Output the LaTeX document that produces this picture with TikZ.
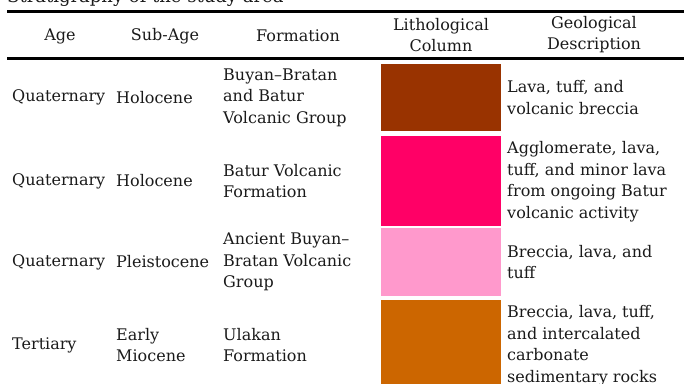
\documentclass[tikz,border=0pt]{standalone}
\usepackage{fontspec}
\setmainfont{DejaVu Serif}
\definecolor{txt}{HTML}{1A1A1A}
\definecolor{brownc}{HTML}{993300}
\definecolor{magc}{HTML}{FF0066}
\definecolor{pinkc}{HTML}{FF99CC}
\definecolor{orangec}{HTML}{CC6600}
\tikzset{
  cell/.style={inner sep=0pt, anchor=west, align=left, text=txt,
    font=\fontsize{16}{21.5}\selectfont},
  head/.style={inner sep=0pt, align=center, text=txt,
    font=\fontsize{16}{21}\selectfont},
  rulel/.style={line width=2.2pt, black},
  litho/.style={draw=none, inner sep=0pt, minimum width=120pt, anchor=north west}
}
\begin{document}
\begin{tikzpicture}[x=1pt,y=-1pt]
\clip (0,0) rectangle (692,383);
% partially visible caption
\node[inner sep=0pt, anchor=base west, text=txt, font=\fontsize{18}{20}\selectfont] (cap) at (7,2.5) {Stratigraphy of the study area};
% rules
\coordinate (r1a) at (7,11.5);
\coordinate (r1b) at (684,11.5);
\coordinate (r2a) at (7,58.5);
\coordinate (r2b) at (684,58.5);
\draw[rulel] (r1a) -- (r1b);
\draw[rulel] (r2a) -- (r2b);
% header
\node[head] (hage) at (60,36) {Age};
\node[head] (hsub) at (165,36) {Sub-Age};
\node[head] (hform) at (298,36) {Formation};
\node[head] (hlith) at (441,35) {Lithological\\Column};
\node[head] (hgeo) at (594,35) {Geological\\Description};
% row 1
\node[cell] (a1) at (12,97.5) {Quaternary};
\node[cell] (s1) at (116,97.5) {Holocene};
\node[cell] (f1) at (223,97.5) {Buyan–Bratan\\and Batur\\Volcanic Group};
\node[litho, fill=brownc, minimum height=67pt] (l1) at (381,64) {};
\node[cell] (d1) at (507,97.5) {Lava, tuff, and\\volcanic breccia};
% row 2
\node[cell] (a2) at (12,181) {Quaternary};
\node[cell] (s2) at (116,181) {Holocene};
\node[cell] (f2) at (223,181) {Batur Volcanic\\Formation};
\node[litho, fill=magc, minimum height=89.5pt] (l2) at (381,136) {};
\node[cell] (d2) at (507,181.5) {Agglomerate, lava,\\tuff, and minor lava\\from ongoing Batur\\volcanic activity};
% row 3
\node[cell] (a3) at (12,262) {Quaternary};
\node[cell] (s3) at (116,262) {Pleistocene};
\node[cell] (f3) at (223,262) {Ancient Buyan–\\Bratan Volcanic\\Group};
\node[litho, fill=pinkc, minimum height=68pt] (l3) at (381,228) {};
\node[cell] (d3) at (507,262) {Breccia, lava, and\\tuff};
% row 4
\node[cell] (a4) at (12,345) {Tertiary};
\node[cell] (s4) at (116,345) {Early\\Miocene};
\node[cell] (f4) at (223,345) {Ulakan\\Formation};
\node[litho, fill=orangec, minimum height=90pt] (l4) at (381,300) {};
\node[cell] (d4) at (507,345.5) {Breccia, lava, tuff,\\and intercalated\\carbonate\\sedimentary rocks};
\end{tikzpicture}
\end{document}
